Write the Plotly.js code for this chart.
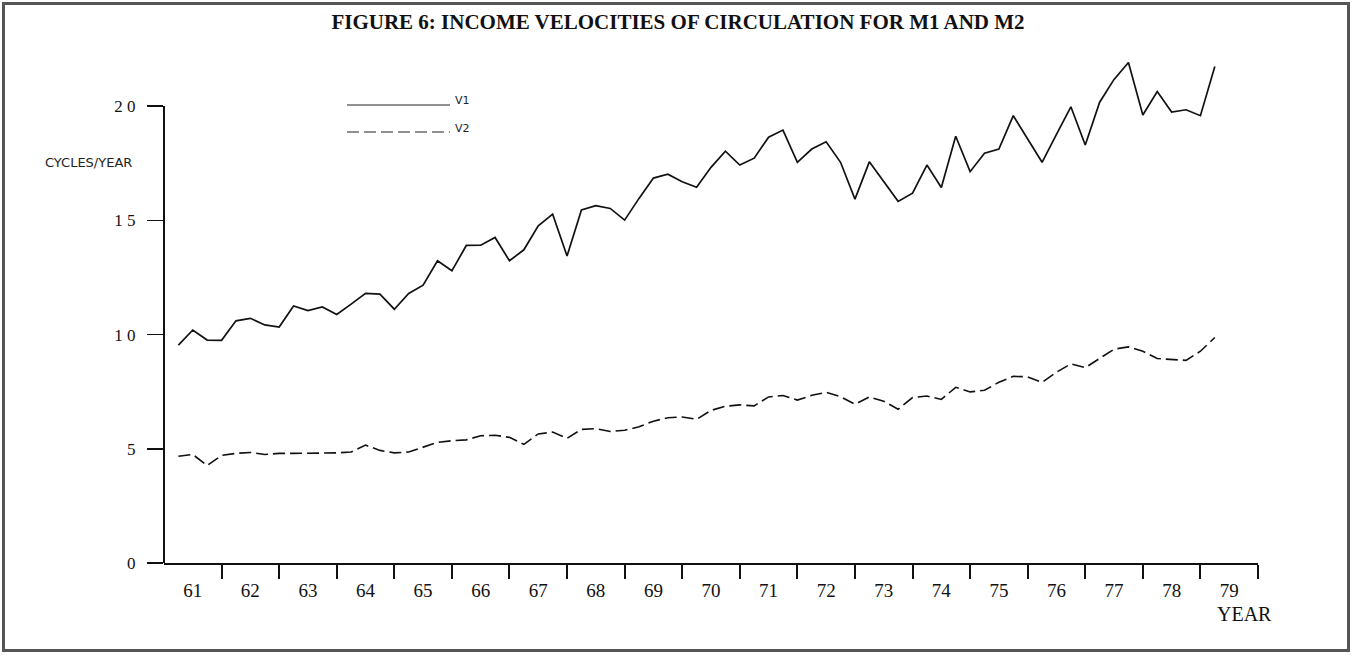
<!DOCTYPE html>
<html>
<head>
<meta charset="utf-8">
<script src="https://cdn.plot.ly/plotly-3.0.1.min.js"></script>
<style>
  body { margin: 0; background: #fff; }
  #wrap { position: relative; width: 1356px; height: 655px; }
  #chart { width: 1356px; height: 655px; }
  #frame { position: absolute; left: 2px; top: 2px; width: 1348px; height: 650px;
           border: 3px solid #555; box-sizing: border-box; pointer-events: none; }
</style>
</head>
<body>
<div id="wrap"><div id="chart"></div><div id="frame"></div></div>
<script>
// Quarterly observations, 1961 Q1 .. 1979 Q1
const firstYear = 1961;
const v1 = [0.954,1.020,0.976,0.975,1.060,1.071,1.042,1.033,1.125,1.105,
            1.121,1.088,1.133,1.180,1.177,1.111,1.180,1.216,1.323,1.279,
            1.390,1.391,1.425,1.323,1.371,1.476,1.527,1.344,1.545,1.564,
            1.552,1.501,1.596,1.685,1.702,1.669,1.645,1.732,1.803,1.742,
            1.772,1.864,1.895,1.754,1.812,1.844,1.754,1.593,1.756,1.670,
            1.583,1.619,1.742,1.644,1.868,1.713,1.794,1.812,1.958,1.856,
            1.754,1.876,1.997,1.830,2.017,2.117,2.191,1.961,2.064,1.974,
            1.984,1.958,2.173];
const v2 = [0.467,0.475,0.427,0.471,0.480,0.484,0.475,0.480,0.480,0.480,
            0.480,0.482,0.486,0.516,0.493,0.482,0.486,0.506,0.528,0.535,
            0.539,0.557,0.559,0.550,0.519,0.565,0.573,0.546,0.585,0.588,
            0.576,0.581,0.596,0.621,0.636,0.639,0.629,0.668,0.686,0.692,
            0.688,0.727,0.733,0.713,0.734,0.747,0.728,0.695,0.727,0.708,
            0.673,0.724,0.731,0.716,0.769,0.749,0.756,0.791,0.817,0.815,
            0.791,0.835,0.872,0.855,0.896,0.936,0.946,0.927,0.895,0.892,
            0.887,0.927,0.987];
const yearLabels = ['61','62','63','64','65','66','67','68','69','70',
                    '71','72','73','74','75','76','77','78','79'];
const yTickVals = [0, 0.5, 1.0, 1.5, 2.0];
const yTickText = ['0', '5', '1 0', '1 5', '2 0'];

const quarterX = v1.map((_, i) => firstYear + (i + 1) / 4);
const yearBoundaries = yearLabels.map((_, i) => firstYear + i + 1);
const yearCentres = yearLabels.map((_, i) => firstYear + i + 0.5);

const serif = '"Liberation Serif", "Times New Roman", serif';
const sans = '"DejaVu Sans", "Liberation Sans", sans-serif';

const traces = [
  { x: quarterX, y: v1, name: 'V1', type: 'scatter', mode: 'lines',
    line: { color: '#111', width: 1.7 } },
  { x: quarterX, y: v2, name: 'V2', type: 'scatter', mode: 'lines',
    line: { color: '#111', width: 1.6, dash: '12px,5px' } }
];

const xr = [firstYear, firstYear + yearLabels.length];
const layout = {
  width: 1356, height: 655,
  margin: { l: 164, r: 98, t: 49, b: 92 },
  paper_bgcolor: '#fff', plot_bgcolor: '#fff',
  showlegend: false,
  title: { text: '<b>FIGURE 6: INCOME VELOCITIES OF CIRCULATION FOR M1 AND M2</b>',
           font: { family: serif, size: 21, color: '#111' },
           x: 0.5, xref: 'container', xanchor: 'center',
           y: 1 - 22 / 655, yref: 'container', yanchor: 'middle' },
  xaxis: { range: xr, showgrid: false, zeroline: false,
           showline: true, linecolor: '#111', linewidth: 2,
           tickmode: 'array', tickvals: yearCentres, ticktext: yearLabels,
           ticks: 'outside', ticklen: 9, tickwidth: 1, tickcolor: 'rgba(0,0,0,0)',
           tickfont: { family: serif, size: 19, color: '#111' },
           minor: { tickmode: 'array', tickvals: yearBoundaries, ticks: 'outside',
                    ticklen: 14, tickwidth: 2, tickcolor: '#111', showgrid: false } },
  yaxis: { range: [0, 2.25], showgrid: false, zeroline: false, showline: false,
           tickmode: 'array', tickvals: yTickVals, ticktext: yTickText,
           ticks: 'outside', ticklen: 16, tickwidth: 1.5, tickcolor: '#111',
           ticklabelstandoff: 8,
           tickfont: { family: serif, size: 17, color: '#111' } },
  shapes: [
    { type: 'line', xref: 'paper', x0: 0, x1: 0, yref: 'y', y0: 0, y1: 2.0,
      line: { color: '#111', width: 2 } },
    { type: 'line', xref: 'paper', x0: (347 - 164) / 1094, x1: (450 - 164) / 1094,
      yref: 'paper', y0: (563 - 105) / 514, y1: (563 - 105) / 514,
      line: { color: '#222', width: 1.2 } },
    { type: 'line', xref: 'paper', x0: (347 - 164) / 1094, x1: (450 - 164) / 1094,
      yref: 'paper', y0: (563 - 132) / 514, y1: (563 - 132) / 514,
      line: { color: '#222', width: 1.2, dash: '12px,5px' } }
  ],
  annotations: [
    { text: 'V1', xref: 'paper', yref: 'paper', x: (453 - 164) / 1094, y: (563 - 101) / 514,
      xanchor: 'left', yanchor: 'middle', showarrow: false,
      font: { family: sans, size: 11, color: '#222' } },
    { text: 'V2', xref: 'paper', yref: 'paper', x: (453 - 164) / 1094, y: (563 - 128) / 514,
      xanchor: 'left', yanchor: 'middle', showarrow: false,
      font: { family: sans, size: 11, color: '#222' } },
    { text: 'CYCLES/YEAR', xref: 'paper', yref: 'paper', x: (88 - 164) / 1094, y: (563 - 162) / 514,
      xanchor: 'center', yanchor: 'middle', showarrow: false,
      font: { family: sans, size: 13, color: '#222' } },
    { text: 'YEAR', xref: 'paper', yref: 'paper', x: (1244 - 164) / 1094, y: (563 - 614) / 514,
      xanchor: 'center', yanchor: 'middle', showarrow: false,
      font: { family: serif, size: 20, color: '#111' } }
  ]
};

Plotly.newPlot('chart', traces, layout, { staticPlot: true, displayModeBar: false });
</script>
</body>
</html>
